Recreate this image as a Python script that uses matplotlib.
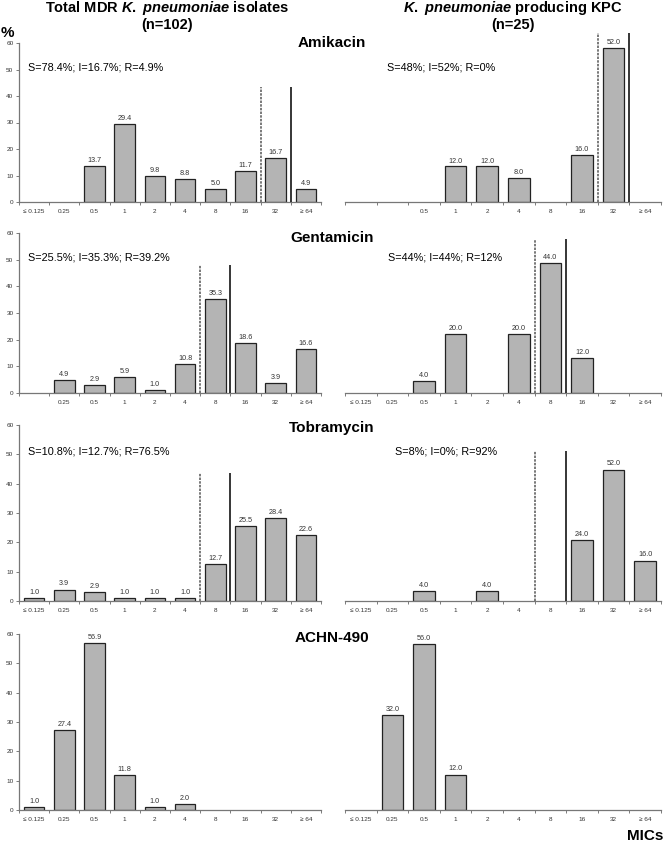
import matplotlib
matplotlib.use('Agg')
import matplotlib.pyplot as plt

plt.rcParams['font.family'] = ['Liberation Sans', 'DejaVu Sans']
plt.rcParams['mathtext.fontset'] = 'custom'
plt.rcParams['mathtext.it'] = 'Liberation Sans:italic:bold'
plt.rcParams['mathtext.rm'] = 'Liberation Sans:bold'

# MIC categories
mics = ['\u2264 0.125', '0.25', '0.5', '1', '2', '4', '8', '16', '32', '\u2265 64']

# % of isolates per MIC, total MDR (left) and KPC producers (right)
amk_total = [0, 0, 13.7, 29.4, 9.8, 8.8, 5.0, 11.7, 16.7, 4.9]
amk_kpc = [0, 0, 0, 12.0, 12.0, 8.0, 0, 16.0, 52.0, 0]
gen_total = [0, 4.9, 2.9, 5.9, 1.0, 10.8, 35.3, 18.6, 3.9, 16.6]
gen_kpc = [0, 0, 4.0, 20.0, 0, 20.0, 44.0, 12.0, 0, 0]
tob_total = [1.0, 3.9, 2.9, 1.0, 1.0, 1.0, 12.7, 25.5, 28.4, 22.6]
tob_kpc = [0, 0, 4.0, 0, 4.0, 0, 0, 24.0, 52.0, 16.0]
achn_total = [1.0, 27.4, 56.9, 11.8, 1.0, 2.0, 0, 0, 0, 0]
achn_kpc = [0, 32.0, 56.0, 12.0, 0, 0, 0, 0, 0, 0]

drugs = ['Amikacin', 'Gentamicin', 'Tobramycin', 'ACHN-490']
sir_total = ['S=78.4%; I=16.7%; R=4.9%', 'S=25.5%; I=35.3%; R=39.2%',
             'S=10.8%; I=12.7%; R=76.5%', '']
sir_kpc = ['S=48%; I=52%; R=0%', 'S=44%; I=44%; R=12%', 'S=8%; I=0%; R=92%', '']

# x tick labels that are shown in each panel
labels_total = [mics, [''] + mics[1:], mics, mics]
labels_kpc = [['', ''] + mics[2:], mics, mics, mics]

# breakpoints (S dashed, R solid) as category boundaries
bp_S = [7.5, 5.5, 5.5, None]
bp_R = [8.5, 6.5, 6.5, None]

W, H = 664, 842
fig = plt.figure(figsize=(W / 100, H / 100), dpi=100)


def rect(x0, top, x1, bottom):
    return [x0 / W, 1 - bottom / H, (x1 - x0) / W, (bottom - top) / H]


rows = [(43, 202), (233, 393), (425, 601), (634, 810)]
right_ymax = [53.7, 54.2, 69.6, 59.5]
line_top_total = [43.5, 48, 43.6]
line_top_kpc = [57, 52, 59.4]
sir_y = [67, 257, 452]
sir_x_kpc = [387, 388, 395]
name_y = [43, 238, 428, 638]


def draw(ax, vals, labels, ymax, show_y):
    x = list(range(len(vals)))
    for xi, v in zip(x, vals):
        if v > 0:
            ax.bar(xi, v, width=0.68, color='#b4b4b4', edgecolor='#222222', linewidth=0.9, zorder=2)
            ax.text(xi, v + ymax * 0.012, '%.1f' % v, ha='center', va='bottom',
                    fontsize=5.2, color='#333333')
    ax.set_xlim(-0.5, 9.5)
    ax.set_ylim(0, ymax)
    ax.set_xticks([i + 0.5 for i in range(-1, 10)], minor=True)
    ax.set_xticks(x)
    ax.set_xticklabels(labels, fontsize=4.6, color='#333333')
    ax.tick_params(axis='x', which='major', length=0, pad=5)
    ax.tick_params(axis='x', which='minor', length=2, width=0.6, color='#666666', direction='out')
    for s in ['top', 'right']:
        ax.spines[s].set_visible(False)
    ax.spines['bottom'].set_color('#777777')
    ax.spines['bottom'].set_linewidth(0.9)
    if show_y:
        ax.spines['left'].set_color('#777777')
        ax.spines['left'].set_linewidth(0.9)
        ax.set_yticks(range(0, 61, 10))
        ax.tick_params(axis='y', labelsize=4.6, labelcolor='#333333', length=2,
                       width=0.6, color='#666666', pad=2)
    else:
        ax.spines['left'].set_visible(False)
        ax.set_yticks([])
    ax.patch.set_visible(False)


totals = [amk_total, gen_total, tob_total, achn_total]
kpcs = [amk_kpc, gen_kpc, tob_kpc, achn_kpc]

for i, (top, bottom) in enumerate(rows):
    axl = fig.add_axes(rect(19, top, 321, bottom))
    draw(axl, totals[i], labels_total[i], 60, True)
    axr = fig.add_axes(rect(345, top, 661, bottom))
    draw(axr, kpcs[i], labels_kpc[i], right_ymax[i], False)

    if bp_S[i] is not None:
        axl.vlines(bp_S[i], 0, line_top_total[i], colors='#555555', linestyles=(0, (1.6, 0.8)),
                   linewidth=1.1, clip_on=False, zorder=3)
        axl.vlines(bp_R[i], 0, line_top_total[i], colors='black', linewidth=1.1,
                   clip_on=False, zorder=3)
        axr.vlines(bp_S[i], 0, line_top_kpc[i], colors='#555555', linestyles=(0, (1.6, 0.8)),
                   linewidth=1.1, clip_on=False, zorder=3)
        axr.vlines(bp_R[i], 0, line_top_kpc[i], colors='black', linewidth=1.1,
                   clip_on=False, zorder=3)

    fig.text(332 / W, 1 - name_y[i] / H, drugs[i], ha='center', va='center',
             fontsize=11, fontweight='bold')
    if sir_total[i]:
        fig.text(28 / W, 1 - sir_y[i] / H, sir_total[i], ha='left', va='center', fontsize=7.8)
        fig.text(sir_x_kpc[i] / W, 1 - sir_y[i] / H, sir_kpc[i], ha='left', va='center', fontsize=7.8)

fig.text(167 / W, 1 - 8 / H, 'Total MDR $\\it{K.}$ $\\it{pneumoniae}$ isolates', ha='center',
         va='center', fontsize=10.5, fontweight='bold')
fig.text(167 / W, 1 - 25 / H, '(n=102)', ha='center', va='center', fontsize=10.5, fontweight='bold')
fig.text(513 / W, 1 - 8 / H, '$\\it{K.}$ $\\it{pneumoniae}$ producing KPC', ha='center',
         va='center', fontsize=10.5, fontweight='bold')
fig.text(513 / W, 1 - 25 / H, '(n=25)', ha='center', va='center', fontsize=10.5, fontweight='bold')
fig.text(1 / W, 1 - 33 / H, '%', ha='left', va='center', fontsize=11, fontweight='bold')
fig.text(663 / W, 1 - 836 / H, 'MICs', ha='right', va='center', fontsize=11, fontweight='bold')

fig.savefig('out.png', dpi=100)
